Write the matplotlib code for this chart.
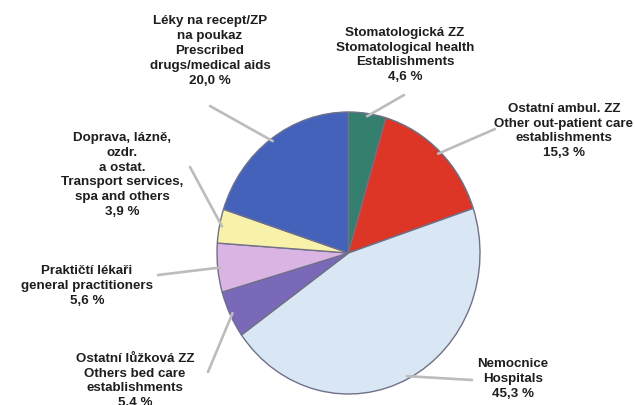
import numpy as np
import matplotlib
matplotlib.use("Agg")
import matplotlib.pyplot as plt

# slices, clockwise from 12 o'clock
labels = [
    "Stomatologická ZZ\nStomatological health\nEstablishments\n4,6 %",
    "Ostatní ambul. ZZ\nOther out-patient care\nestablishments\n15,3 %",
    "Nemocnice\nHospitals\n45,3 %",
    "Ostatní lůžková ZZ\nOthers bed care\nestablishments\n5,4 %",
    "Praktičtí lékaři\ngeneral practitioners\n5,6 %",
    "Doprava, lázně,\nozdr.\na ostat.\nTransport services,\nspa and others\n3,9 %",
    "Léky na recept/ZP\nna poukaz\nPrescribed\ndrugs/medical aids\n20,0 %",
]
shares = [4.6, 15.3, 45.3, 5.4, 5.6, 3.9, 20.0]
colors = ["#347f6e", "#de3626", "#d9e7f5", "#7a68b8", "#dab4e2", "#f8f1aa", "#4562bb"]

# label centres and leader-line outer ends (figure pixels, y from top)
label_xy = [(405, 55), (564, 131), (513, 379), (135, 381), (87, 286), (122, 175), (210, 51)]
leader_end = [(404, 96), (495, 130), (472, 381), (208, 373), (158, 276), (190, 168), (210, 107)]

W, H = 635, 406
fig = plt.figure(figsize=(W / 100, H / 100), dpi=100)
plt.rcParams["font.family"] = ["Liberation Sans", "DejaVu Sans"]

# pie bounding box in pixels
left, right, top, bottom = 217, 480, 113, 395
ax = fig.add_axes([left / W, (H - bottom) / H, (right - left) / W, (bottom - top) / H])
wedges, _ = ax.pie(shares, colors=colors, startangle=90, counterclock=False,
                   normalize=True, radius=1,
                   wedgeprops=dict(edgecolor="#707088", linewidth=1.0))
for w in wedges:
    w.set_clip_on(False)
ax.set_aspect("auto")
ax.set_xlim(-1, 1)
ax.set_ylim(-1, 1)
ax.axis("off")

for w, lab, (tx, ty), (lx, ly) in zip(wedges, labels, label_xy, leader_end):
    mid = np.deg2rad((w.theta1 + w.theta2) / 2)
    ax.annotate("", xy=(np.cos(mid) * 0.98, np.sin(mid) * 0.98), xycoords="data",
                xytext=(lx, H - ly), textcoords="figure pixels",
                arrowprops=dict(arrowstyle="-", color="#bcbcbc", lw=1.9,
                                shrinkA=0, shrinkB=0))
    fig.text(tx / W, 1 - ty / H, lab, ha="center", va="center", fontsize=9.6,
             fontweight="bold", color="#1e1e1e", linespacing=1.33)

fig.savefig("out.png", dpi=100)
